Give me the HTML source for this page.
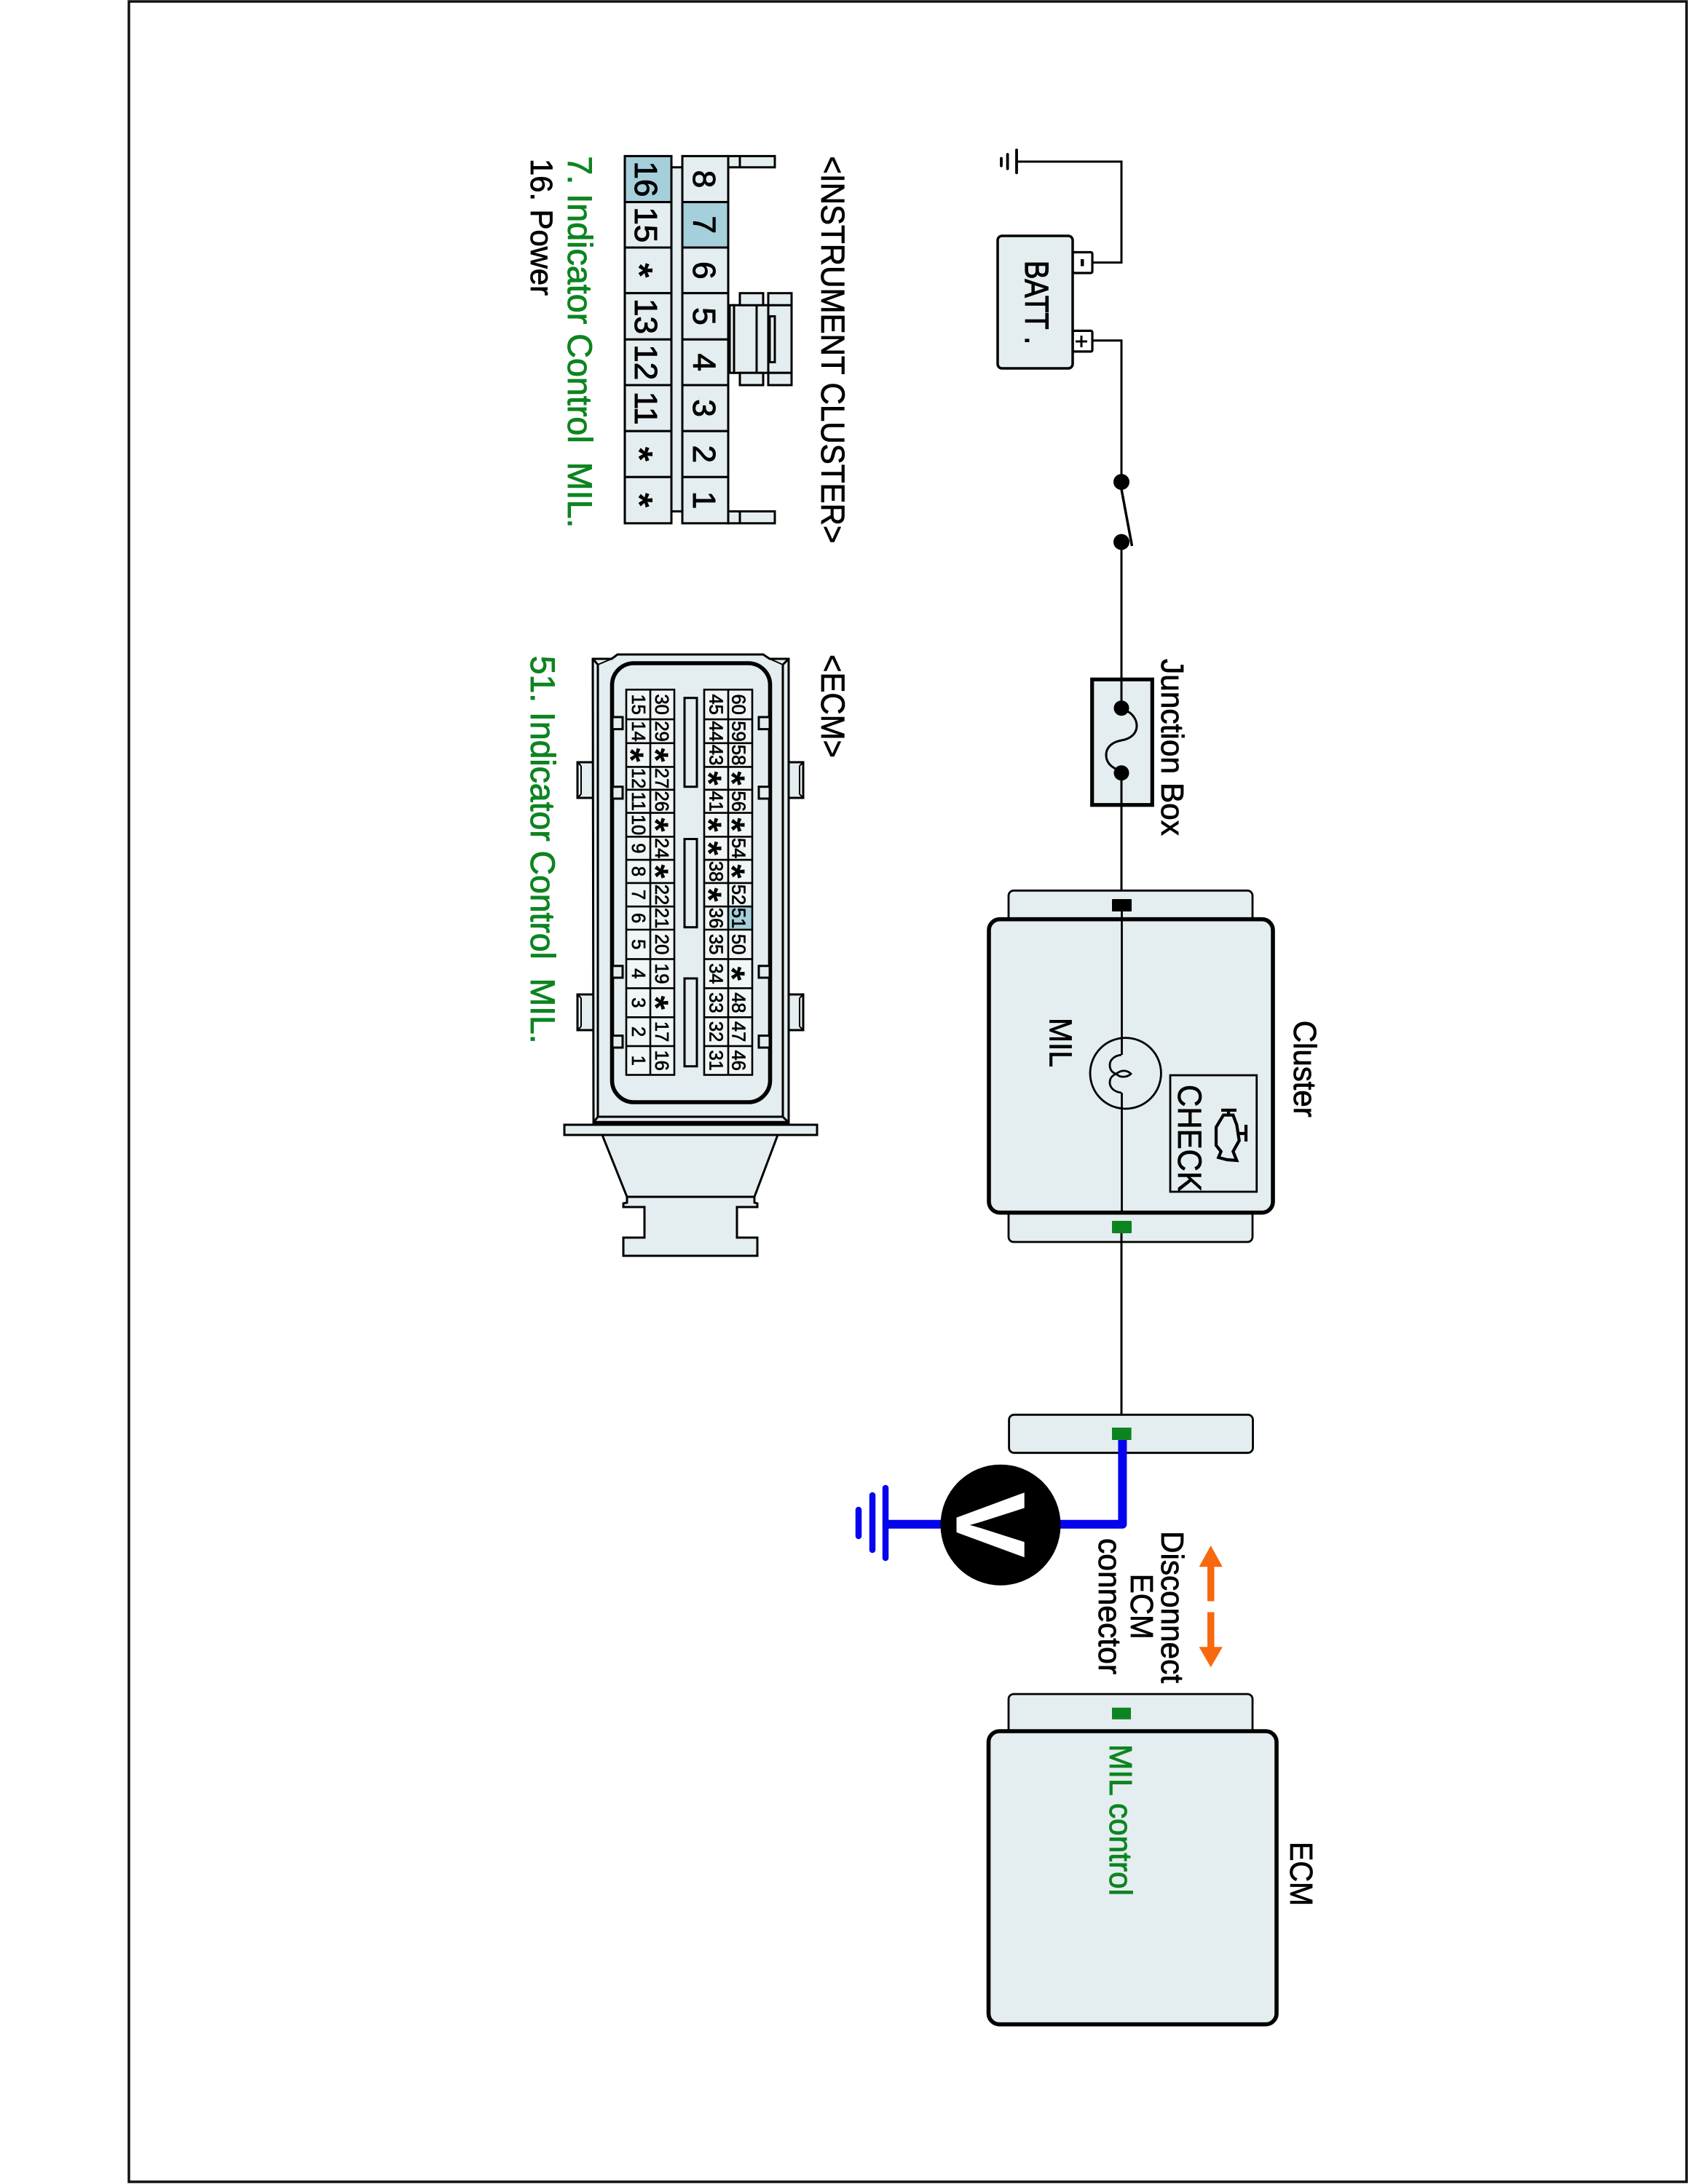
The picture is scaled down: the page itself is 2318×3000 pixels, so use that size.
<!DOCTYPE html>
<html><head><meta charset="utf-8"><style>
html,body{margin:0;padding:0;background:#fff}
svg{display:block}
text{font-family:"Liberation Sans",sans-serif;white-space:pre}
.c text{text-anchor:middle}
.a text{text-anchor:middle;font-weight:bold}
</style></head><body>
<svg xmlns="http://www.w3.org/2000/svg" width="2318" height="3000" viewBox="0 0 2318 3000">
<rect width="2318" height="3000" fill="#fff"/>
<rect x="177" y="2" width="2139" height="2995" fill="none" stroke="#111" stroke-width="3.5"/>

<!-- wires -->
<g fill="none" stroke="#000" stroke-width="3">
<path d="M1396 222H1540V360.6H1500"/>
<path d="M1500 467.8H1540V662"/>
<path d="M1540 672L1554.5 750" stroke-width="3.5"/>
<path d="M1540 744V1250" />
<path d="M1540.5 1250V1449M1540.5 1501V1694M1540 1694V1943"/>
</g>
<!-- ground top -->
<path d="M1396 206V237.4M1383.6 212V231.7M1375 217.5V227.8" stroke="#000" stroke-width="3.8" fill="none" stroke-linecap="round"/>
<circle cx="1540" cy="662" r="11"/><circle cx="1540" cy="744.5" r="11"/>

<!-- battery -->
<rect x="1473" y="346.5" width="27" height="28.5" rx="2" fill="#fff" stroke="#000" stroke-width="3.2"/>
<rect x="1473" y="454.4" width="27" height="28.5" rx="2" fill="#fff" stroke="#000" stroke-width="3.2"/>
<rect x="1370" y="324" width="103" height="182" rx="6" fill="#e4edef" stroke="#000" stroke-width="3.5"/>
<rect x="1484" y="356" width="4.5" height="9.6"/>
<path d="M1485 461V477M1477 469H1493" stroke="#000" stroke-width="3"/>

<!-- junction box -->
<rect x="1499.7" y="933.3" width="82.6" height="172.4" fill="#e4edef" stroke="#000" stroke-width="5.2"/>
<path d="M1540 880V972M1540 1061V1250" stroke="#000" stroke-width="3" fill="none"/>
<circle cx="1540" cy="972.7" r="10.5"/><circle cx="1540" cy="1061.7" r="10.5"/>
<path d="M1548 977C1556 981 1561 989 1561 997C1561 1008 1552 1015 1540 1017C1528 1019 1519 1026 1519 1037C1519 1046 1524 1052 1532 1056" fill="none" stroke="#000" stroke-width="3"/>

<!-- cluster box -->
<rect x="1385" y="1223.3" width="335" height="60" rx="7" fill="#e4edef" stroke="#000" stroke-width="2.8"/>
<rect x="1385" y="1646" width="335" height="60" rx="7" fill="#e4edef" stroke="#000" stroke-width="2.8"/>
<rect x="1358" y="1262.7" width="390" height="403" rx="15" fill="#e4edef" stroke="#000" stroke-width="5.6"/>
<path d="M1540.5 1250V1449M1540.5 1501V1665" stroke="#000" stroke-width="2.8" fill="none"/>
<rect x="1527" y="1235" width="27" height="17" rx="1"/>
<rect x="1527" y="1677" width="27" height="17" rx="1" fill="#0d8420"/>
<path d="M1540 1694V1943" stroke="#000" stroke-width="3" fill="none"/>
<circle cx="1545.7" cy="1474.3" r="48.7" fill="none" stroke="#000" stroke-width="2.8"/>
<path d="M1540 1449C1530 1450 1524 1456 1524 1463C1524 1470 1528 1474 1533 1475C1540 1469 1548 1470 1553 1475C1548 1480 1538 1481 1533 1475C1528 1477 1524 1480 1524 1487C1524 1494 1530 1500 1540 1501" fill="none" stroke="#000" stroke-width="2.8"/>
<rect x="1607" y="1477" width="118.7" height="160" fill="none" stroke="#000" stroke-width="2.8"/>
<!-- engine icon -->
<path d="M1680 1531.7L1670 1548.3V1573.3L1676.7 1581.7L1673.3 1590L1685 1593L1698.3 1594L1693.3 1581.7L1701.7 1566.7L1698.3 1545L1693.3 1531.7Z" fill="none" stroke="#000" stroke-width="4.2"/>
<path d="M1677 1525H1698M1687 1525V1532M1700 1557H1711M1711 1545V1568" fill="none" stroke="#000" stroke-width="4.2"/>

<!-- middle connector -->
<rect x="1385.6" y="1943.3" width="334.9" height="52.4" rx="7" fill="#e4edef" stroke="#000" stroke-width="2.8"/>
<path d="M1541.4 1978V2093.8H1216" fill="none" stroke="#0505ee" stroke-width="12" stroke-linejoin="round"/>
<rect x="1527" y="1961" width="26.6" height="17" fill="#0d8420"/>
<ellipse cx="1374" cy="2094.7" rx="82.5" ry="83"/>
<path d="M1216 2044V2140M1198 2054V2129M1179 2074V2110" stroke="#0505ee" stroke-width="8.5" stroke-linecap="round" fill="none"/>

<!-- orange arrows -->
<path d="M1662.7 2124L1678 2151.7H1667V2199H1658.5V2151.7H1647.4Z" fill="#f76810" stroke="#f76810" stroke-width="1" stroke-linejoin="round"/>
<path d="M1662.7 2289.3L1678 2262.7H1667V2215H1658.5V2262.7H1647.4Z" fill="#f76810" stroke="#f76810" stroke-width="1" stroke-linejoin="round"/>

<!-- ECM box -->
<rect x="1385" y="2327" width="335" height="70" rx="7" fill="#e4edef" stroke="#000" stroke-width="2.8"/>
<rect x="1527" y="2345.7" width="26" height="16" fill="#0d8420"/>
<rect x="1357.5" y="2378" width="395.5" height="402.7" rx="15" fill="#e4edef" stroke="#000" stroke-width="5.6"/>

<!-- instrument cluster connector -->
<g fill="#e4edef" stroke="#000" stroke-width="3">
<rect x="1000" y="214.4" width="64" height="15.4"/><rect x="1000" y="702.4" width="64" height="16.4"/>
<path d="M1016 214.4V229.8M1016 702.4V718.8" fill="none"/>
<rect x="922" y="229.8" width="15" height="472.6"/>
<rect x="1002" y="419.2" width="6" height="93"/>
<rect x="1008" y="419.2" width="31" height="93"/>
<rect x="1039" y="419.2" width="16" height="93"/>
<rect x="1055" y="419.2" width="32" height="93"/>
<rect x="1016" y="402.7" width="32" height="16.5"/>
<rect x="1016" y="512.2" width="32" height="16.8"/>
<rect x="1055" y="402.7" width="32" height="16.5"/>
<rect x="1055" y="512.2" width="32" height="16.8"/>
<rect x="1057" y="434.5" width="7" height="63"/>
<rect x="858" y="214.4" width="64" height="63.2" fill="#a5d0db"/>
<rect x="858" y="277.6" width="64" height="62.4"/>
<rect x="858" y="340" width="64" height="62.7"/>
<rect x="858" y="402.7" width="64" height="63.6"/>
<rect x="858" y="466.3" width="64" height="62.7"/>
<rect x="858" y="529" width="64" height="63.2"/>
<rect x="858" y="592.2" width="64" height="63.1"/>
<rect x="858" y="655.3" width="64" height="63.5"/>
<rect x="937" y="214.4" width="63" height="63.2"/>
<rect x="937" y="277.6" width="63" height="62.4" fill="#a5d0db"/>
<rect x="937" y="340" width="63" height="62.7"/>
<rect x="937" y="402.7" width="63" height="63.6"/>
<rect x="937" y="466.3" width="63" height="62.7"/>
<rect x="937" y="529" width="63" height="63.2"/>
<rect x="937" y="592.2" width="63" height="63.1"/>
<rect x="937" y="655.3" width="63" height="63.5"/>
</g>

<!-- ECM connector -->
<g fill="#e4edef" stroke="#000" stroke-width="3">
<path d="M793 1047H820V1096H793Z"/><path d="M793 1366H820V1415H793Z"/>
<path d="M1077 1047H1103V1096H1077Z"/><path d="M1077 1366H1103V1415H1077Z"/>
<path d="M798 1052V1091M798 1371V1410M1098 1052V1091M1098 1371V1410M793 1047L798 1052M793 1096L798 1091M793 1366L798 1371M793 1415L798 1410M1103 1047L1098 1052M1103 1096L1098 1091M1103 1366L1098 1371M1103 1415L1098 1410" fill="none" stroke-width="2"/>
<path d="M814 905H840L848 899H1048L1057 905H1083V1542H815Z"/>
<path d="M821 913V1534H1075V913M814 905L821 913M1083 905L1075 913M815 1542L821 1534M1083 1542L1075 1534" fill="none"/>
<path d="M821 913L840 905M1075 913L1057 905" fill="none" stroke-width="2"/>
<rect x="775" y="1545" width="347" height="14"/>
<path d="M827 1559H1068L1036 1644H861Z"/>
<path d="M861 1644V1652L856 1653V1658H885V1700H856V1725H1040V1700H1012V1658H1040V1653L1036 1652V1644Z"/>
</g>
<path d="M815 1542.5H1083" stroke="#000" stroke-width="5.5"/>
<rect x="840.5" y="911" width="217" height="603" rx="30" fill="#e4edef" stroke="#000" stroke-width="5.6"/>
<g fill="#e4edef" stroke="#000" stroke-width="3">
<rect x="841" y="985" width="14" height="16.6"/><rect x="841" y="1080.7" width="14" height="16.3"/><rect x="841" y="1326.8" width="14" height="16.2"/><rect x="841" y="1422.6" width="14" height="16.4"/>
<rect x="1042" y="985" width="15" height="16.6"/><rect x="1042" y="1080.7" width="15" height="16.3"/><rect x="1042" y="1326.8" width="15" height="16.2"/><rect x="1042" y="1422.6" width="15" height="16.4"/>
<rect x="940" y="958.7" width="17" height="122"/><rect x="940" y="1152.5" width="17" height="121.2"/><rect x="940" y="1344" width="17" height="120.7"/>
</g>
<g fill="#f0f5f5">
<rect x="860" y="947.3" width="66" height="529.2"/><rect x="967" y="947.3" width="66" height="529.2"/>
</g>
<rect x="1000" y="1245.2" width="33" height="31.8" fill="#a5d0db"/>
<g fill="none" stroke="#000" stroke-width="2.6">
<rect x="860" y="947.3" width="66" height="529.2"/><rect x="967" y="947.3" width="66" height="529.2"/>
<path d="M893 947.3V1476.5M1000 947.3V1476.5"/>
<path d="M860 988.1H926M860 1020.8H926M860 1053.4H926M860 1084.8H926M860 1116.6H926M860 1149.3H926M860 1181.1H926M860 1212.9H926M860 1245.2H926M860 1277H926M860 1317.4H926M860 1357.4H926M860 1397.3H926M860 1436.9H926"/>
<path d="M967 988.1H1033M967 1020.8H1033M967 1053.4H1033M967 1084.8H1033M967 1116.6H1033M967 1149.3H1033M967 1181.1H1033M967 1212.9H1033M967 1245.2H1033M967 1277H1033M967 1317.4H1033M967 1357.4H1033M967 1397.3H1033M967 1436.9H1033"/>
</g>

<!-- all text, rotated 90deg: x = page y, y = -page x -->
<g transform="rotate(90)">
<g font-size="43" stroke="#000" stroke-width=".8">
<text x="218" y="-729" textLength="188" lengthAdjust="spacingAndGlyphs">16. Power</text>
<text x="214.4" y="-1128" font-size="45" textLength="532" lengthAdjust="spacingAndGlyphs">&lt;INSTRUMENT CLUSTER&gt;</text>
<text x="899" y="-1128" font-size="45" textLength="142" lengthAdjust="spacingAndGlyphs">&lt;ECM&gt;</text>
<text x="358" y="-1408" font-size="45" textLength="115" lengthAdjust="spacingAndGlyphs" stroke-width="1.2">BATT .</text>
<text x="905" y="-1595" font-size="44" textLength="243" lengthAdjust="spacingAndGlyphs">Junction Box</text>
<text x="1398" y="-1441.7" font-size="44" textLength="68" lengthAdjust="spacingAndGlyphs">MIL</text>
<text x="1490" y="-1618" font-size="45" textLength="147" lengthAdjust="spacingAndGlyphs">CHECK</text>
<text x="1401.7" y="-1777" font-size="44" textLength="133" lengthAdjust="spacingAndGlyphs">Cluster</text>
<text x="2103" y="-1595" font-size="44" textLength="209" lengthAdjust="spacingAndGlyphs">Disconnect</text>
<text x="2161.7" y="-1553" font-size="44" textLength="90" lengthAdjust="spacingAndGlyphs">ECM</text>
<text x="2113" y="-1509" font-size="44" textLength="187" lengthAdjust="spacingAndGlyphs">connector</text>
<text x="2530" y="-1772" font-size="44" textLength="88" lengthAdjust="spacingAndGlyphs">ECM</text>
</g>
<g fill="#0d8420" stroke="#0d8420" stroke-width=".9" font-size="47">
<text x="214.4" y="-780" textLength="511" lengthAdjust="spacingAndGlyphs">7. Indicator Control  MIL.</text>
<text x="900.7" y="-729" textLength="533" lengthAdjust="spacingAndGlyphs">51. Indicator Control  MIL.</text>
<text x="2396" y="-1524" font-size="44" textLength="208" lengthAdjust="spacingAndGlyphs">MIL control</text>
</g>
<g class="c"><text x="2094.7" y="-1314" font-size="134" font-weight="bold" fill="#fff" stroke="#fff" stroke-width="1">V</text></g>

<!-- cluster numbers -->
<g class="c" font-size="44" stroke="#000" stroke-width="1">
<text x="246" y="-872">16</text><text x="308.8" y="-872">15</text><text x="434.5" y="-872">13</text><text x="497.7" y="-872">12</text><text x="560.6" y="-872">11</text>
<text x="246" y="-952">8</text><text x="308.8" y="-952">7</text><text x="371.4" y="-952">6</text><text x="434.5" y="-952">5</text><text x="497.7" y="-952">4</text><text x="560.6" y="-952">3</text><text x="623.8" y="-952">2</text><text x="687" y="-952">1</text>
</g>
<g class="a" font-size="52">
<text x="371.4" y="-860">*</text><text x="623.8" y="-860">*</text><text x="687" y="-860">*</text>
</g>

<!-- ECM numbers -->
<g class="c" font-size="25.5" stroke="#000" stroke-width=".7">
<text x="967.7" y="-1005.7">60</text><text x="1004.5" y="-1005.7">59</text><text x="1037.1" y="-1005.7">58</text><text x="1100.7" y="-1005.7">56</text><text x="1165.2" y="-1005.7">54</text><text x="1229" y="-1005.7">52</text><text x="1261.1" y="-1005.7">51</text><text x="1297.2" y="-1005.7">50</text><text x="1377.4" y="-1005.7">48</text><text x="1417.1" y="-1005.7">47</text><text x="1456.7" y="-1005.7">46</text>
<text x="967.7" y="-974.3">45</text><text x="1004.5" y="-974.3">44</text><text x="1037.1" y="-974.3">43</text><text x="1100.7" y="-974.3">41</text><text x="1197" y="-974.3">38</text><text x="1261.1" y="-974.3">36</text><text x="1297.2" y="-974.3">35</text><text x="1337.4" y="-974.3">34</text><text x="1377.4" y="-974.3">33</text><text x="1417.1" y="-974.3">32</text><text x="1456.7" y="-974.3">31</text>
<text x="967.7" y="-900">30</text><text x="1004.5" y="-900">29</text><text x="1069.1" y="-900">27</text><text x="1100.7" y="-900">26</text><text x="1165.2" y="-900">24</text><text x="1229" y="-900">22</text><text x="1261.1" y="-900">21</text><text x="1297.2" y="-900">20</text><text x="1337.4" y="-900">19</text><text x="1417.1" y="-900">17</text><text x="1456.7" y="-900">16</text>
<text x="967.7" y="-868">15</text><text x="1004.5" y="-868">14</text><text x="1069.1" y="-868">12</text><text x="1100.7" y="-868">11</text><text x="1133" y="-868">10</text><text x="1165.2" y="-868">9</text><text x="1197" y="-868">8</text><text x="1229" y="-868">7</text><text x="1261.1" y="-868">6</text><text x="1297.2" y="-868">5</text><text x="1337.4" y="-868">4</text><text x="1377.4" y="-868">3</text><text x="1417.1" y="-868">2</text><text x="1456.7" y="-868">1</text>
</g>
<g class="a" font-size="50">
<text x="1069.1" y="-988">*</text><text x="1133" y="-988">*</text><text x="1197" y="-988">*</text><text x="1337.4" y="-988">*</text>
<text x="1069.1" y="-956">*</text><text x="1133" y="-956">*</text><text x="1165.2" y="-956">*</text><text x="1229" y="-956">*</text>
<text x="1037.1" y="-883">*</text><text x="1133" y="-883">*</text><text x="1197" y="-883">*</text><text x="1377.4" y="-883">*</text>
<text x="1037.1" y="-849">*</text>
</g>
</g>
</svg>
</body></html>
